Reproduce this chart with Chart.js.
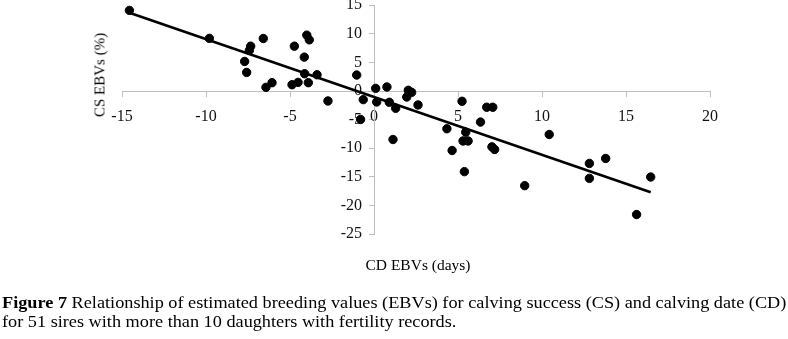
<!DOCTYPE html>
<html><head><meta charset="utf-8">
<script src="https://cdn.jsdelivr.net/npm/chart.js@4/dist/chart.umd.min.js"></script>
<style>
html,body{margin:0;padding:0;background:#fff;}
#wrap{position:relative;width:788px;height:339px;overflow:hidden;font-family:"Liberation Serif","Times New Roman",serif;color:#000;}
#c{position:absolute;left:0;top:0;}
.ytitle{position:absolute;left:100px;top:75px;transform:translate(-50%,-50%) rotate(-90deg);font-size:15px;white-space:nowrap;}
.xtitle{position:absolute;left:418px;top:265px;transform:translate(-50%,-50%);font-size:15.5px;white-space:nowrap;}
.cap{position:absolute;left:2px;top:293px;font-size:16px;line-height:19px;white-space:nowrap;transform:scaleX(1.14);transform-origin:0 0;}
</style></head>
<body>
<div id="wrap">
<canvas id="c" width="788" height="339"></canvas>
<div class="ytitle">CS EBVs (%)</div>
<div class="xtitle">CD EBVs (days)</div>
<div class="cap"><b>Figure 7</b> Relationship of estimated breeding values (EBVs) for calving success (CS) and calving date (CD)<br>for 51 sires with more than 10 daughters with fertility records.</div>
</div>
<script>
// CD EBVs (days) – x values
const cdEbvs = [-14.56,-9.8,-7.34,-7.42,-7.7,-7.58,-6.59,-6.43,-6.07,-4.74,-4.88,-4.52,-4.0,-3.85,-4.15,-4.13,-3.91,-3.39,-2.74,-1.03,-0.64,0.1,0.16,-0.8,0.77,0.91,1.29,1.13,2.04,2.24,1.95,2.62,5.24,6.71,7.07,4.34,6.34,5.46,5.3,5.6,4.65,7.02,7.18,5.38,8.97,10.43,12.82,12.82,13.79,16.47,15.63];
// CS EBVs (%) – y values
const csEbvs = [14.1,9.2,7.84,7.1,5.17,3.25,9.18,0.64,1.45,7.84,1.1,1.51,9.76,8.94,5.92,3.02,1.45,2.84,-1.74,2.79,-1.51,0.46,-1.92,-4.97,0.7,-1.97,-3.02,-8.48,0.12,-0.23,-1.05,-2.44,-1.8,-2.84,-2.84,-6.6,-5.43,-7.2,-8.74,-8.74,-10.4,-9.76,-10.22,-14.1,-16.55,-7.6,-12.66,-15.27,-11.79,-15.04,-21.6];
const xRange = [-15, 20];
const yRange = [-25, 15];
const tickStep = 5;

const points = cdEbvs.map((x,i)=>({x, y: csEbvs[i]}));
// Linear trendline (least squares) from the data
const n = points.length;
const mx = cdEbvs.reduce((a,b)=>a+b,0)/n;
const my = csEbvs.reduce((a,b)=>a+b,0)/n;
let sxy=0, sxx=0;
for (let i=0;i<n;i++){ sxy += (cdEbvs[i]-mx)*(csEbvs[i]-my); sxx += (cdEbvs[i]-mx)**2; }
const slope = sxy/sxx, icpt = my - slope*mx;
const xMin = Math.min(...cdEbvs), xMax = Math.max(...cdEbvs);
const trend = [{x:xMin, y:icpt+slope*xMin},{x:xMax, y:icpt+slope*xMax}];

// Linear scale whose labels sit a small gap away from an axis that crosses at a value
const Y_LABEL_GAP = 12;
class GapLinearScale extends Chart.LinearScale {
  _computeLabelItems(chartArea) {
    const items = super._computeLabelItems(chartArea);
    for (const it of items) { it.options.translation[0] -= Y_LABEL_GAP; }
    return items;
  }
}
GapLinearScale.id = 'gapLinear';
GapLinearScale.defaults = Chart.LinearScale.defaults;
Chart.register(GapLinearScale);

const tickFont = {family:"'Liberation Serif','Times New Roman',serif", size:16};
new Chart(document.getElementById('c'), {
  type: 'scatter',
  data: { datasets: [
    { data: points, backgroundColor:'#000', borderColor:'#000', pointRadius:4.2, pointHoverRadius:4.2, order:1 },
    { type:'line', data: trend, borderColor:'#000', borderWidth:2.6, pointRadius:0, fill:false, order:2 }
  ]},
  options: {
    responsive:false, animation:false,
    layout:{ padding:{ left:122, right:78, top:4, bottom:105 } },
    plugins:{ legend:{display:false}, tooltip:{enabled:false} },
    scales:{
      x:{ type:'linear', min:xRange[0], max:xRange[1], position:{y:0},
          afterFit:s=>{ s.height=0; s.paddingLeft=0; s.paddingRight=0; },
          border:{color:'#bfbfbf', width:1},
          grid:{ drawOnChartArea:false, color:'#bfbfbf', tickLength:5 },
          ticks:{ stepSize:tickStep, color:'#111', font:tickFont, padding:11, maxRotation:0 } },
      y:{ type:'gapLinear', min:yRange[0], max:yRange[1], position:{x:0},
          afterFit:s=>{ s.width=0; s.paddingTop=0; s.paddingBottom=0; },
          border:{color:'#bfbfbf', width:1},
          grid:{ drawOnChartArea:false, color:'#bfbfbf', tickLength:5 },
          ticks:{ stepSize:tickStep, color:'#111', font:tickFont, padding:6 } }
    }
  }
});
</script>
</body></html>
